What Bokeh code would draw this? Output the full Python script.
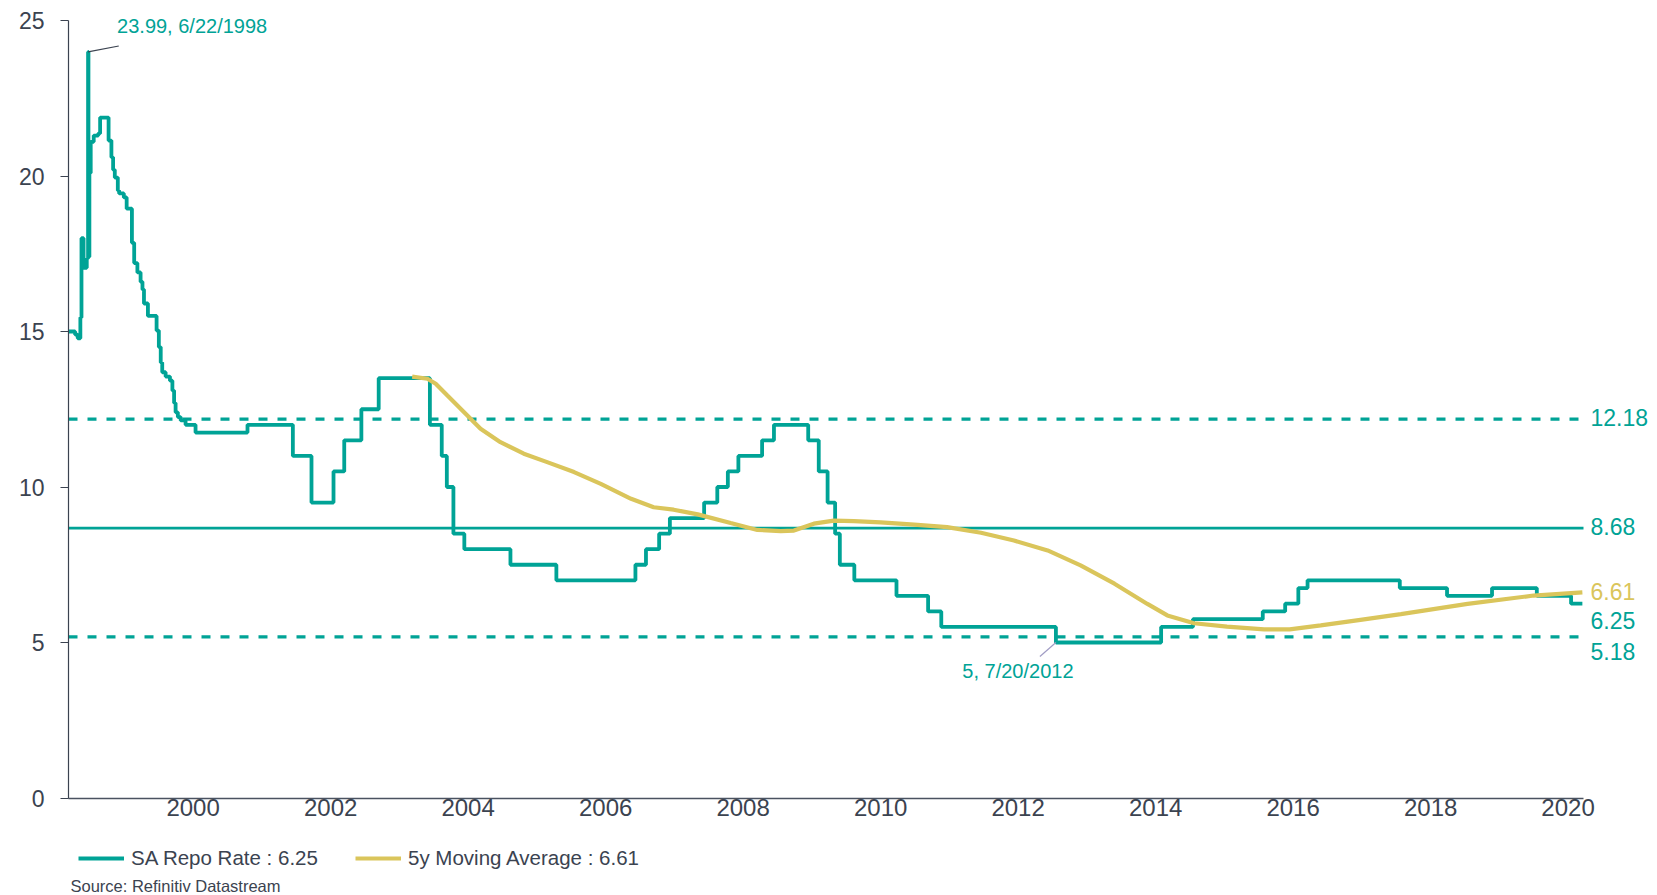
import pandas as pd
from bokeh.plotting import figure
from bokeh.models import (Range1d, Label, Legend, LegendItem, FixedTicker,
                          DatetimeTickFormatter)
from bokeh.embed import file_html
from bokeh.resources import INLINE

# ---------------- data ----------------
repo_dates = [
    "1998-03-10", "1998-04-14", "1998-04-28", "1998-05-12", "1998-05-18", "1998-05-29",
    "1998-06-15", "1998-06-22", "1998-06-24", "1998-06-29", "1998-07-06", "1998-07-22",
    "1998-08-15", "1998-08-25", "1998-10-09", "1998-10-24", "1998-11-02", "1998-11-11",
    "1998-11-27", "1998-12-04", "1998-12-29", "1999-01-13", "1999-02-10", "1999-02-22",
    "1999-03-11", "1999-03-28", "1999-04-07", "1999-04-15", "1999-05-06", "1999-06-21",
    "1999-07-03", "1999-07-13", "1999-07-21", "1999-08-08", "1999-08-31", "1999-09-13",
    "1999-09-22", "1999-09-30", "1999-10-12", "1999-10-27", "1999-11-22",
    "2000-01-14", "2000-10-16", "2001-06-14", "2001-09-21", "2002-01-16", "2002-03-14",
    "2002-06-13", "2002-09-13", "2003-06-12", "2003-08-14", "2003-09-10", "2003-10-15",
    "2003-12-12", "2004-08-13", "2005-04-14", "2006-06-08", "2006-08-03", "2006-10-12",
    "2006-12-08", "2007-06-08", "2007-08-17", "2007-10-12", "2007-12-07", "2008-04-11",
    "2008-06-13", "2008-12-12", "2009-02-06", "2009-03-25", "2009-05-04", "2009-05-29",
    "2009-08-14", "2010-03-26", "2010-09-10", "2010-11-19", "2012-07-20", "2014-01-30",
    "2014-07-18", "2015-07-24", "2015-11-20", "2016-01-29", "2016-03-18", "2017-07-21",
    "2018-03-29", "2018-11-23", "2019-07-19", "2020-01-17", "2020-03-17",
]
repo_values = [
    15.0, 14.9, 14.78, 15.45, 18.0, 17.05,
    17.35, 23.99, 17.4, 20.1, 21.1, 21.3,
    21.37, 21.88, 21.14, 20.6, 20.2, 19.95,
    19.53, 19.44, 19.31, 18.95, 17.85, 17.2,
    16.9, 16.6, 16.35, 15.9, 15.5, 15.03,
    14.5, 14.0, 13.69, 13.55, 13.42, 13.1,
    12.7, 12.4, 12.25, 12.14, 12.0,
    11.75, 12.0, 11.0, 9.5, 10.5, 11.5,
    12.5, 13.5, 12.0, 11.0, 10.0, 8.5,
    8.0, 7.5, 7.0, 7.5, 8.0, 8.5,
    9.0, 9.5, 10.0, 10.5, 11.0, 11.5,
    12.0, 11.5, 10.5, 9.5, 8.5, 7.5,
    7.0, 6.5, 6.0, 5.5, 5.0, 5.5,
    5.75, 6.0, 6.25, 6.75, 7.0, 6.75,
    6.5, 6.75, 6.5, 6.25, 6.25,
]

ma_dates = [
    "2003-03-10", "2003-05-30", "2003-07-13", "2003-09-13", "2003-12-28", "2004-03-07",
    "2004-06-21", "2004-10-23", "2005-02-24", "2005-07-17", "2005-12-06", "2006-05-16",
    "2006-09-13", "2006-12-28", "2007-05-05", "2007-10-27", "2008-03-17", "2008-07-19",
    "2008-09-27", "2009-01-11", "2009-04-27", "2009-08-11", "2010-01-01", "2010-06-28",
    "2010-12-20", "2011-06-18", "2011-12-10", "2012-06-06", "2012-11-28", "2013-05-27",
    "2013-11-18", "2014-03-04", "2014-07-24", "2015-01-15", "2015-07-31", "2015-12-14",
    "2016-05-27", "2016-12-24", "2017-07-27", "2018-07-16", "2019-07-02", "2020-03-17",
]
ma_values = [
    13.55, 13.48, 13.32, 12.94, 12.30, 11.87,
    11.44, 11.07, 10.80, 10.48, 10.10, 9.62,
    9.35, 9.27, 9.12, 8.84, 8.62, 8.58,
    8.60, 8.82, 8.92, 8.90, 8.86, 8.79,
    8.71, 8.53, 8.28, 7.96, 7.48, 6.89,
    6.24, 5.87, 5.62, 5.51, 5.42, 5.42,
    5.55, 5.73, 5.91, 6.24, 6.51, 6.61,
]

band_levels = [12.18, 8.68, 5.18]          # mean + 1sd, mean, mean - 1sd
year_ticks = list(range(2000, 2021, 2))
y_ticks = [0, 5, 10, 15, 20, 25]
axis_start, axis_end = "1998-03-10", "2020-03-23"
y_min, y_max = 0, 25

peak_date, peak_value = "1998-06-22", 23.99
low_date, low_value = "2012-07-20", 5.0

# ---------------- style / layout ----------------
TEAL = "#00A396"
YELLOW = "#DAC55B"
TEXT = "#3B4350"
FONT = "Liberation Sans"
W, H = 1657, 895
AX_LEFT, AX_RIGHT, AX_TOP, AX_BOTTOM = 68, 1583, 20, 797.5   # plotting box in canvas px
DAY = 86400000.0


def ms(d):
    return pd.Timestamp(d).timestamp() * 1000.0


x0, x1 = ms(axis_start), ms(axis_end)
ms_per_px = (x1 - x0) / (AX_RIGHT - AX_LEFT)
u_per_px = (y_max - y_min) / (AX_BOTTOM - AX_TOP)

p = figure(width=W, height=H, x_axis_type="datetime",
           x_range=Range1d(x0 - AX_LEFT * ms_per_px, x1 + (W - AX_RIGHT) * ms_per_px),
           y_range=Range1d(y_min - (H - AX_BOTTOM) * u_per_px, y_max + AX_TOP * u_per_px),
           output_backend="svg", toolbar_location=None, tools="",
           min_border_left=0, min_border_right=0, min_border_top=0, min_border_bottom=0)
p.outline_line_color = None
p.xgrid.visible = False
p.ygrid.visible = False
p.background_fill_color = "white"
p.border_fill_color = "white"

# level lines (mean and +/- 1 sd)
for lvl, dash, lw in zip(band_levels, ["9 10", "solid", "9 10"], [3.2, 2.7, 3.2]):
    p.segment(x0=[x0], y0=[lvl], x1=[x1], y1=[lvl], line_color=TEAL,
              line_width=lw, line_dash=dash)

repo_x = pd.to_datetime(repo_dates)
ma_x = pd.to_datetime(ma_dates)
r_repo = p.step(repo_x, repo_values, mode="after", line_color=TEAL, line_width=3.8)
r_ma = p.line(ma_x, ma_values, line_color=YELLOW, line_width=4.2)

# axes, pinned to the plotting box
p.yaxis.fixed_location = x0
p.yaxis.bounds = (y_min, y_max)
p.yaxis.ticker = FixedTicker(ticks=y_ticks)
p.yaxis.axis_line_color = TEXT
p.yaxis.axis_line_width = 1.2
p.yaxis.major_tick_line_color = TEXT
p.yaxis.major_tick_out = 8
p.yaxis.major_tick_in = 0
p.yaxis.minor_tick_line_color = None
p.yaxis.major_label_standoff = 16
p.yaxis.major_label_text_font = FONT
p.yaxis.major_label_text_font_size = "23px"
p.yaxis.major_label_text_color = TEXT

p.xaxis.fixed_location = y_min
p.xaxis.bounds = (x0, x1)
p.xaxis.ticker = FixedTicker(ticks=[ms(f"{y}-01-01") for y in year_ticks])
p.xaxis.formatter = DatetimeTickFormatter(years="%Y", months="%Y", days="%Y",
                                          hours="%Y", minutes="%Y")
p.xaxis.axis_line_color = "#4A5260"
p.xaxis.axis_line_width = 1.5
p.xaxis.major_tick_out = 0
p.xaxis.major_tick_in = 0
p.xaxis.minor_tick_line_color = None
p.xaxis.major_label_standoff = 1
p.xaxis.major_label_text_font = FONT
p.xaxis.major_label_text_font_size = "24px"
p.xaxis.major_label_text_color = TEXT

# right-hand value labels
right_vals = [band_levels[0], band_levels[1], ma_values[-1], repo_values[-1], band_levels[2]]
right_cols = [TEAL, TEAL, YELLOW, TEAL, TEAL]
right_offs = [1.5, 1.5, 1, -17, -15]
for v, c, off in zip(right_vals, right_cols, right_offs):
    p.add_layout(Label(x=x1, y=v, x_offset=7, y_offset=off,
                       text=f"{v:.2f}", text_color=c, text_font=FONT,
                       text_font_size="23px", text_baseline="middle", text_align="left"))

# annotations
px, pv = ms(peak_date), peak_value
p.segment(x0=[px], y0=[pv], x1=[px + 163 * DAY], y1=[pv + 0.19],
          line_color=TEXT, line_width=1.2)
p.add_layout(Label(x=px, y=pv, x_offset=29, y_offset=26,
                   text=f"{peak_value:.2f}, 6/22/1998", text_color=TEAL, text_font=FONT,
                   text_font_size="20px", text_baseline="middle", text_align="left"))

lx, lv = ms(low_date), low_value
p.segment(x0=[lx], y0=[lv], x1=[lx - 85 * DAY], y1=[lv - 0.45],
          line_color="#A09CC4", line_width=1.2)
p.add_layout(Label(x=lx, y=lv, x_offset=-38, y_offset=-28,
                   text=f"{low_value:g}, 7/20/2012", text_color=TEAL, text_font=FONT,
                   text_font_size="20px", text_baseline="middle", text_align="center"))

# legend (two single-item legends below the axis)
for r, lab, xpos in [(r_repo, f"SA Repo Rate : {repo_values[-1]:.2f}", 78),
                     (r_ma, f"5y Moving Average : {ma_values[-1]:.2f}", 355)]:
    lg = Legend(items=[LegendItem(label=lab, renderers=[r])], location=(xpos, 25),
                orientation="horizontal", padding=0, margin=0, spacing=0,
                glyph_width=46, glyph_height=24, label_height=24, label_standoff=7,
                border_line_color=None, background_fill_alpha=0,
                label_text_font=FONT, label_text_font_size="20.5px",
                label_text_color=TEXT)
    p.add_layout(lg)

p.add_layout(Label(x=70, y=9.5, x_units="screen", y_units="screen",
                   text="Source: Refinitiv Datastream", text_color=TEXT, text_font=FONT,
                   text_font_size="16.5px", text_baseline="middle", text_align="left"))

open("out.html", "w").write(file_html(p, INLINE))
